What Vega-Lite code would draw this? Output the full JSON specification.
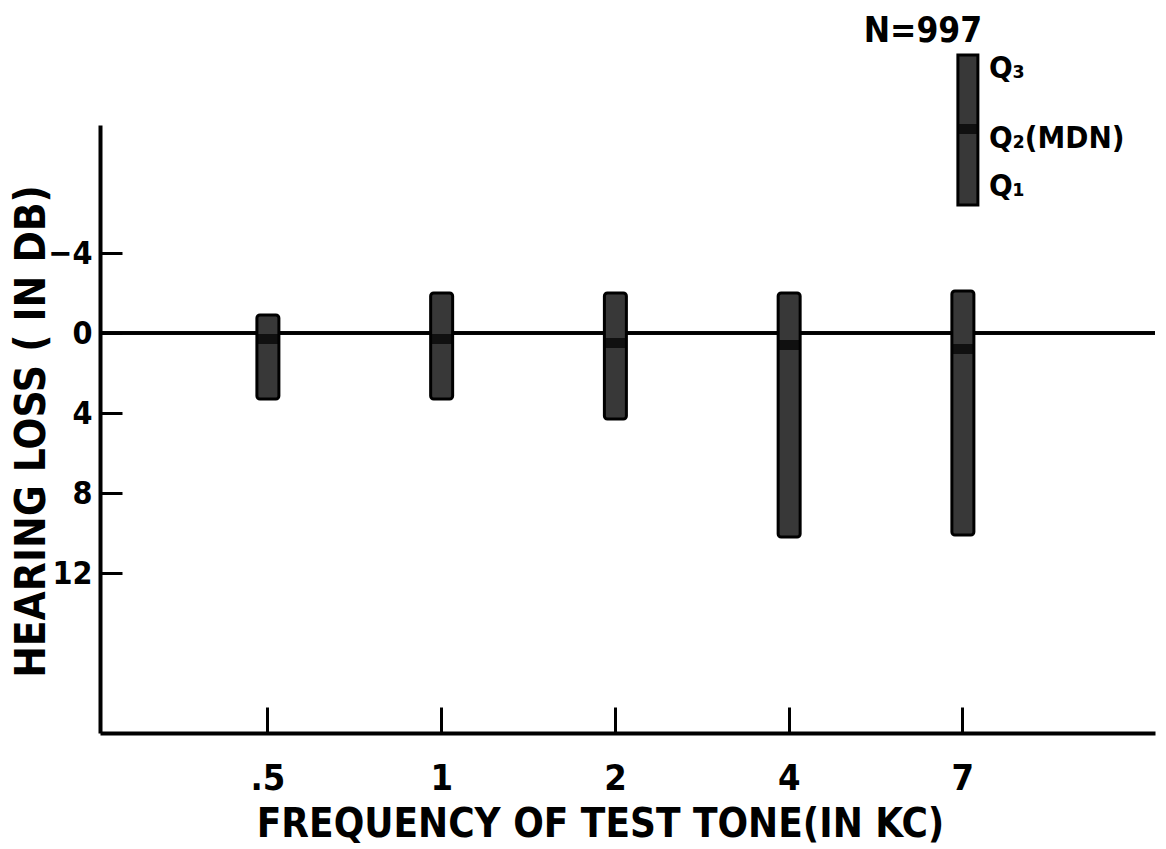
{
  "$schema": "https://vega.github.io/schema/vega-lite/v6.json",
  "width": 1055,
  "height": 718,
  "autosize": "none",
  "padding": {"left": 100, "top": 15, "right": 11, "bottom": 116},
  "background": "white",
  "config": {"view": {"stroke": null}, "font": "DejaVu Sans Condensed"},
  "datasets": {
    "bars": [
      {"freq": ".5", "q3": -0.9, "median": 0.3, "q1": 3.3},
      {"freq": "1", "q3": -2.0, "median": 0.3, "q1": 3.3},
      {"freq": "2", "q3": -2.0, "median": 0.5, "q1": 4.3},
      {"freq": "4", "q3": -2.0, "median": 0.6, "q1": 10.2},
      {"freq": "7", "q3": -2.1, "median": 0.8, "q1": 10.1}
    ],
    "key": [{"freq": "7", "q3": -13.9, "median": -10.2, "q1": -6.4, "n": "N=997"}],
    "keylabels": [
      {"freq": "7", "label": "Q₃", "v": -13.2},
      {"freq": "7", "label": "Q₂(MDN)", "v": -9.7},
      {"freq": "7", "label": "Q₁", "v": -7.3}
    ]
  },
  "encoding": {
    "x": {
      "field": "freq",
      "type": "nominal",
      "scale": {"type": "band", "domain": [".5", "1", "2", "4", "7"], "paddingInner": 0, "paddingOuter": 0.536, "align": 0.435},
      "axis": {
        "title": "FREQUENCY  OF TEST  TONE(IN KC)",
        "titleFont": "DejaVu Sans Condensed",
        "titleFontWeight": "bold",
        "titleFontSize": 40,
        "titleColor": "black",
        "titlePadding": 8,
        "titleX": 500,
        "labelAngle": 0,
        "labelFont": "DejaVu Sans Condensed",
        "labelFontWeight": "bold",
        "labelFontSize": 36,
        "labelColor": "black",
        "labelPadding": 54,
        "tickSize": -26,
        "tickWidth": 3,
        "tickColor": "black",
        "domainColor": "black",
        "domainWidth": 4
      }
    }
  },
  "layer": [
    {
      "data": {"name": "bars"},
      "mark": {"type": "rule", "color": "black", "strokeWidth": 3},
      "encoding": {"x": null, "y": {"datum": 0, "type": "quantitative"}}
    },
    {
      "data": {"name": "bars"},
      "mark": {"type": "bar", "width": 22, "fill": "#383838", "stroke": "black", "strokeWidth": 3, "cornerRadius": 3},
      "encoding": {
        "y": {
          "field": "q3",
          "type": "quantitative",
          "scale": {"domain": [-15.9, 20], "reverse": true, "nice": false, "zero": false},
          "axis": {
            "values": [-4, 0, 4, 8, 12],
            "grid": false,
            "title": "HEARING LOSS ( IN DB)",
            "titleFont": "DejaVu Sans Condensed",
            "titleFontWeight": "bold",
            "titleFontSize": 42,
            "titleColor": "black",
            "titleY": 416,
            "titleX": -47,
            "labelFont": "DejaVu Sans Condensed",
            "labelFontWeight": "bold",
            "labelFontSize": 32,
            "labelColor": "black",
            "labelPadding": 30,
            "tickSize": -22,
            "tickWidth": 3,
            "tickColor": "black",
            "domainColor": "black",
            "domainWidth": 4,
            "domainDash": [0, 110, 608]
          }
        },
        "y2": {"field": "q1"}
      }
    },
    {
      "data": {"name": "bars"},
      "mark": {"type": "tick", "color": "black", "size": 22, "thickness": 10, "orient": "horizontal"},
      "encoding": {"y": {"field": "median", "type": "quantitative"}}
    },
    {
      "data": {"name": "key"},
      "mark": {"type": "bar", "width": 20, "fill": "#383838", "stroke": "black", "strokeWidth": 3, "xOffset": 5},
      "encoding": {"y": {"field": "q3", "type": "quantitative"}, "y2": {"field": "q1"}}
    },
    {
      "data": {"name": "key"},
      "mark": {"type": "tick", "color": "black", "size": 20, "thickness": 10, "orient": "horizontal", "xOffset": 5},
      "encoding": {"y": {"field": "median", "type": "quantitative"}}
    },
    {
      "data": {"name": "key"},
      "mark": {"type": "text", "font": "DejaVu Sans Condensed", "fontWeight": "bold", "fontSize": 35, "color": "black", "dx": -40, "baseline": "middle"},
      "encoding": {"y": {"datum": -15.1, "type": "quantitative"}, "text": {"field": "n"}}
    },
    {
      "data": {"name": "keylabels"},
      "mark": {"type": "text", "font": "DejaVu Sans Condensed", "fontWeight": "bold", "fontSize": 31, "color": "black", "dx": 26, "align": "left", "baseline": "middle"},
      "encoding": {"y": {"field": "v", "type": "quantitative"}, "text": {"field": "label"}}
    }
  ]
}
